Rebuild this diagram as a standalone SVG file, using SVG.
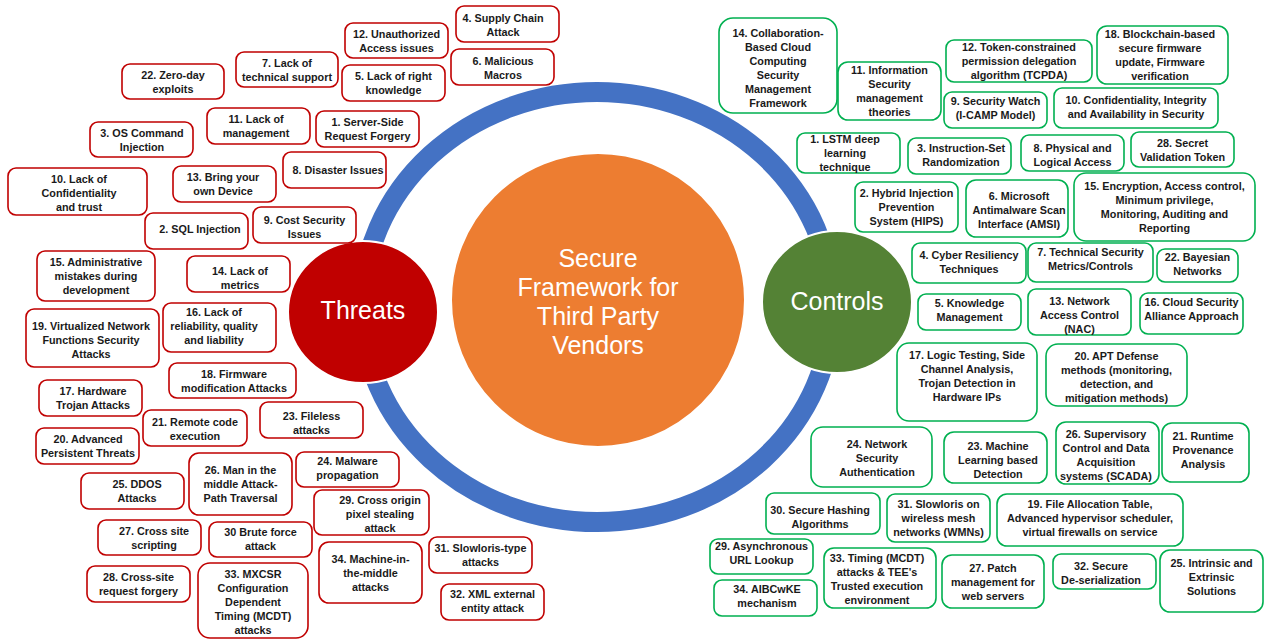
<svg xmlns="http://www.w3.org/2000/svg" width="1265" height="640" viewBox="0 0 1265 640">
<style>
.t rect{fill:#fff;stroke:#C00000;stroke-width:1.6}
.c rect{fill:#fff;stroke:#00B050;stroke-width:1.6}
text.l{font-family:"Liberation Sans",Arial,sans-serif;font-weight:bold;font-size:10.8px;text-anchor:middle;fill:#1a1a1a}
text.big{font-family:"Liberation Sans",Arial,sans-serif;font-size:25px;text-anchor:middle;fill:#fff}
</style>
<rect width="1265" height="640" fill="#fff"/>
<g id="ring"><ellipse cx="597" cy="307" rx="235" ry="215" fill="none" stroke="#4472C4" stroke-width="20"/></g>
<g id="center"><circle cx="598" cy="300" r="147" fill="#ED7D31" stroke="#fff" stroke-width="2"/>
<text class="big" x="598" y="267">Secure<tspan x="598" dy="29">Framework for</tspan><tspan x="598" dy="29">Third Party</tspan><tspan x="598" dy="29">Vendors</tspan></text></g>
<g id="threats"><ellipse cx="363" cy="312" rx="75" ry="71" fill="#C00000" stroke="#fff" stroke-width="2"/><text class="big" x="363" y="319">Threats</text></g>
<g id="controls"><ellipse cx="837" cy="302" rx="75" ry="71" fill="#548235" stroke="#fff" stroke-width="2"/><text class="big" x="837" y="310">Controls</text></g>

<g id="t22" class="t"><rect x="122" y="64" width="102" height="35" rx="8"/><text class="l" x="173" y="78.5">22. Zero-day<tspan x="173" dy="14">exploits</tspan></text></g>
<g id="t7" class="t"><rect x="236" y="52" width="102" height="35" rx="8"/><text class="l" x="287" y="66.5">7. Lack of<tspan x="287" dy="14">technical support</tspan></text></g>
<g id="t11" class="t"><rect x="207" y="108" width="103" height="36" rx="8"/><text class="l" x="256" y="123">11. Lack of<tspan x="256" dy="14">management</tspan></text></g>
<g id="t3" class="t"><rect x="90" y="122" width="103" height="35" rx="8"/><text class="l" x="142" y="136.5">3. OS Command<tspan x="142" dy="14">Injection</tspan></text></g>
<g id="t10" class="t"><rect x="8" y="168" width="139" height="47" rx="8"/><text class="l" x="79" y="182.5">10. Lack of<tspan x="79" dy="14">Confidentiality</tspan><tspan x="79" dy="14">and trust</tspan></text></g>
<g id="t13" class="t"><rect x="173" y="166" width="103" height="36" rx="8"/><text class="l" x="223" y="181">13. Bring your<tspan x="223" dy="14">own Device</tspan></text></g>
<g id="t8" class="t"><rect x="283" y="152" width="103" height="36" rx="8"/><text class="l" x="338" y="174">8. Disaster Issues</text></g>
<g id="t12" class="t"><rect x="345" y="23" width="103" height="35" rx="8"/><text class="l" x="396.5" y="37.5">12. Unauthorized<tspan x="396.5" dy="14">Access issues</tspan></text></g>
<g id="t4" class="t"><rect x="456" y="6" width="103" height="36" rx="8"/><text class="l" x="503" y="22">4. Supply Chain<tspan x="503" dy="14">Attack</tspan></text></g>
<g id="t6" class="t"><rect x="451" y="49" width="103" height="36" rx="8"/><text class="l" x="503" y="65">6. Malicious<tspan x="503" dy="14">Macros</tspan></text></g>
<g id="t5" class="t"><rect x="342" y="65" width="103" height="36" rx="8"/><text class="l" x="393.5" y="80">5. Lack of right<tspan x="393.5" dy="14">knowledge</tspan></text></g>
<g id="t1" class="t"><rect x="316" y="111" width="103" height="36" rx="8"/><text class="l" x="367.5" y="126">1. Server-Side<tspan x="367.5" dy="14">Request Forgery</tspan></text></g>
<g id="t2" class="t"><rect x="145" y="213" width="103" height="36" rx="8"/><text class="l" x="200" y="233">2. SQL Injection</text></g>
<g id="t9" class="t"><rect x="253" y="207" width="103" height="36" rx="8"/><text class="l" x="304.5" y="224">9. Cost Security<tspan x="304.5" dy="14">Issues</tspan></text></g>
<g id="t15" class="t"><rect x="37" y="251" width="118" height="50" rx="8"/><text class="l" x="96" y="266">15. Administrative<tspan x="96" dy="14">mistakes during</tspan><tspan x="96" dy="14">development</tspan></text></g>
<g id="t14" class="t"><rect x="187" y="256" width="103" height="36" rx="8"/><text class="l" x="240" y="275">14. Lack of<tspan x="240" dy="14">metrics</tspan></text></g>
<g id="t19" class="t"><rect x="26" y="309" width="133" height="58" rx="8"/><text class="l" x="91" y="330">19. Virtualized Network<tspan x="91" dy="14">Functions Security</tspan><tspan x="91" dy="14">Attacks</tspan></text></g>
<g id="t16" class="t"><rect x="163" y="303" width="113" height="49" rx="8"/><text class="l" x="214" y="316">16. Lack of<tspan x="214" dy="14">reliability, quality</tspan><tspan x="214" dy="14">and liability</tspan></text></g>
<g id="t18" class="t"><rect x="169" y="363" width="127" height="35" rx="8"/><text class="l" x="234" y="378">18. Firmware<tspan x="234" dy="14">modification Attacks</tspan></text></g>
<g id="t17" class="t"><rect x="39" y="380" width="103" height="36" rx="8"/><text class="l" x="93" y="395">17. Hardware<tspan x="93" dy="14">Trojan Attacks</tspan></text></g>
<g id="t21" class="t"><rect x="143" y="410" width="104" height="36" rx="8"/><text class="l" x="195" y="426">21. Remote code<tspan x="195" dy="14">execution</tspan></text></g>
<g id="t20" class="t"><rect x="36" y="428" width="103" height="36" rx="8"/><text class="l" x="88" y="443">20. Advanced<tspan x="88" dy="14">Persistent Threats</tspan></text></g>
<g id="t23" class="t"><rect x="260" y="402" width="103" height="36" rx="8"/><text class="l" x="311.5" y="420">23. Fileless<tspan x="311.5" dy="14">attacks</tspan></text></g>
<g id="t26" class="t"><rect x="189" y="453" width="103" height="62" rx="10"/><text class="l" x="240.5" y="474">26. Man in the<tspan x="240.5" dy="14">middle Attack-</tspan><tspan x="240.5" dy="14">Path Traversal</tspan></text></g>
<g id="t24" class="t"><rect x="296" y="452" width="103" height="35" rx="8"/><text class="l" x="347.5" y="465">24.  Malware<tspan x="347.5" dy="14">propagation</tspan></text></g>
<g id="t25" class="t"><rect x="81" y="473" width="103" height="36" rx="8"/><text class="l" x="137" y="488">25. DDOS<tspan x="137" dy="14">Attacks</tspan></text></g>
<g id="t29" class="t"><rect x="314" y="490" width="115" height="45" rx="8"/><text class="l" x="380" y="504">29. Cross origin<tspan x="380" dy="14">pixel stealing</tspan><tspan x="380" dy="14">attack</tspan></text></g>
<g id="t27" class="t"><rect x="98" y="520" width="103" height="35" rx="8"/><text class="l" x="154" y="535">27. Cross site<tspan x="154" dy="14">scripting</tspan></text></g>
<g id="t30" class="t"><rect x="209" y="522" width="103" height="35" rx="8"/><text class="l" x="260.5" y="536">30 Brute force<tspan x="260.5" dy="14">attack</tspan></text></g>
<g id="t34" class="t"><rect x="319" y="542" width="103" height="61" rx="10"/><text class="l" x="370.5" y="563">34. Machine-in-<tspan x="370.5" dy="14">the-middle</tspan><tspan x="370.5" dy="14">attacks</tspan></text></g>
<g id="t31" class="t"><rect x="429" y="537" width="103" height="36" rx="8"/><text class="l" x="480.5" y="552">31. Slowloris-type<tspan x="480.5" dy="14">attacks</tspan></text></g>
<g id="t28" class="t"><rect x="87" y="566" width="103" height="36" rx="8"/><text class="l" x="138.5" y="581">28. Cross-site<tspan x="138.5" dy="14">request forgery</tspan></text></g>
<g id="t33" class="t"><rect x="198" y="563" width="110" height="75" rx="12"/><text class="l" x="253" y="578">33. MXCSR<tspan x="253" dy="14">Configuration</tspan><tspan x="253" dy="14">Dependent</tspan><tspan x="253" dy="14">Timing (MCDT)</tspan><tspan x="253" dy="14">attacks</tspan></text></g>
<g id="t32" class="t"><rect x="441" y="584" width="103" height="36" rx="8"/><text class="l" x="492.5" y="598">32. XML external<tspan x="492.5" dy="14">entity attack</tspan></text></g>

<g id="c14" class="c"><rect x="719" y="18" width="118" height="95" rx="14"/><text class="l" x="778" y="36.5">14. Collaboration-<tspan x="778" dy="14">Based Cloud</tspan><tspan x="778" dy="14">Computing</tspan><tspan x="778" dy="14">Security</tspan><tspan x="778" dy="14">Management</tspan><tspan x="778" dy="14">Framework</tspan></text></g>
<g id="c11" class="c"><rect x="838" y="62" width="103" height="58" rx="10"/><text class="l" x="889.5" y="73.5">11. Information<tspan x="889.5" dy="14">Security</tspan><tspan x="889.5" dy="14">management</tspan><tspan x="889.5" dy="14">theories</tspan></text></g>
<g id="c12" class="c"><rect x="946" y="40" width="146" height="42" rx="8"/><text class="l" x="1019" y="50.5">12. Token-constrained<tspan x="1019" dy="14">permission delegation</tspan><tspan x="1019" dy="14">algorithm (TCPDA)</tspan></text></g>
<g id="c18" class="c"><rect x="1097" y="26" width="131" height="58" rx="10"/><text class="l" x="1160" y="38">18. Blockchain-based<tspan x="1160" dy="14">secure firmware</tspan><tspan x="1160" dy="14">update, Firmware</tspan><tspan x="1160" dy="14">verification</tspan></text></g>
<g id="c9" class="c"><rect x="944" y="92" width="103" height="36" rx="8"/><text class="l" x="995.5" y="105">9. Security Watch<tspan x="995.5" dy="14">(I-CAMP Model)</tspan></text></g>
<g id="c10" class="c"><rect x="1054" y="88" width="164" height="40" rx="8"/><text class="l" x="1136" y="104">10. Confidentiality, Integrity<tspan x="1136" dy="14">and Availability in Security</tspan></text></g>
<g id="c1" class="c"><rect x="797" y="133" width="103" height="40" rx="8"/><text class="l" x="845" y="143">1. LSTM deep<tspan x="845" dy="14">learning</tspan><tspan x="845" dy="14">technique</tspan></text></g>
<g id="c3" class="c"><rect x="908" y="138" width="103" height="36" rx="8"/><text class="l" x="961" y="152">3. Instruction-Set<tspan x="961" dy="14">Randomization</tspan></text></g>
<g id="c8" class="c"><rect x="1021" y="135" width="103" height="36" rx="8"/><text class="l" x="1072.5" y="152">8. Physical and<tspan x="1072.5" dy="14">Logical Access</tspan></text></g>
<g id="c28" class="c"><rect x="1131" y="132" width="103" height="35" rx="8"/><text class="l" x="1182.5" y="147">28. Secret<tspan x="1182.5" dy="14">Validation Token</tspan></text></g>
<g id="c2" class="c"><rect x="855" y="182" width="103" height="50" rx="8"/><text class="l" x="906.5" y="197">2. Hybrid Injection<tspan x="906.5" dy="14">Prevention</tspan><tspan x="906.5" dy="14">System (HIPS)</tspan></text></g>
<g id="c6" class="c"><rect x="966" y="180" width="102" height="57" rx="10"/><text class="l" x="1019" y="200">6. Microsoft<tspan x="1019" dy="14">Antimalware Scan</tspan><tspan x="1019" dy="14">Interface (AMSI)</tspan></text></g>
<g id="c15" class="c"><rect x="1074" y="173" width="181" height="68" rx="12"/><text class="l" x="1164.5" y="190">15. Encryption, Access control,<tspan x="1164.5" dy="14">Minimum privilege,</tspan><tspan x="1164.5" dy="14">Monitoring, Auditing and</tspan><tspan x="1164.5" dy="14">Reporting</tspan></text></g>
<g id="c4" class="c"><rect x="912" y="243" width="114" height="40" rx="8"/><text class="l" x="969" y="259">4. Cyber Resiliency<tspan x="969" dy="14">Techniques</tspan></text></g>
<g id="c7" class="c"><rect x="1028" y="243" width="125" height="39" rx="8"/><text class="l" x="1090.5" y="256">7. Technical Security<tspan x="1090.5" dy="14">Metrics/Controls</tspan></text></g>
<g id="c22" class="c"><rect x="1157" y="249" width="81" height="33" rx="8"/><text class="l" x="1197.5" y="261">22. Bayesian<tspan x="1197.5" dy="14">Networks</tspan></text></g>
<g id="c5" class="c"><rect x="918" y="294" width="103" height="36" rx="8"/><text class="l" x="969.5" y="307">5. Knowledge<tspan x="969.5" dy="14">Management</tspan></text></g>
<g id="c13" class="c"><rect x="1028" y="289" width="103" height="46" rx="8"/><text class="l" x="1079.5" y="305">13. Network<tspan x="1079.5" dy="14">Access Control</tspan><tspan x="1079.5" dy="14">(NAC)</tspan></text></g>
<g id="c16" class="c"><rect x="1140" y="293" width="103" height="41" rx="8"/><text class="l" x="1191.5" y="306">16. Cloud Security<tspan x="1191.5" dy="14">Alliance Approach</tspan></text></g>
<g id="c17" class="c"><rect x="897" y="343" width="140" height="78" rx="12"/><text class="l" x="967" y="359">17. Logic Testing, Side<tspan x="967" dy="14">Channel Analysis,</tspan><tspan x="967" dy="14">Trojan Detection in</tspan><tspan x="967" dy="14">Hardware IPs</tspan></text></g>
<g id="c20" class="c"><rect x="1046" y="344" width="141" height="62" rx="12"/><text class="l" x="1116.5" y="360">20. APT Defense<tspan x="1116.5" dy="14">methods (monitoring,</tspan><tspan x="1116.5" dy="14">detection, and</tspan><tspan x="1116.5" dy="14">mitigation methods)</tspan></text></g>
<g id="c24" class="c"><rect x="811" y="427" width="121" height="60" rx="12"/><text class="l" x="877" y="448">24. Network<tspan x="877" dy="14">Security</tspan><tspan x="877" dy="14">Authentication</tspan></text></g>
<g id="c23" class="c"><rect x="944" y="432" width="103" height="51" rx="10"/><text class="l" x="998" y="450">23. Machine<tspan x="998" dy="14">Learning based</tspan><tspan x="998" dy="14">Detection</tspan></text></g>
<g id="c26" class="c"><rect x="1056" y="422" width="103" height="62" rx="10"/><text class="l" x="1106" y="437.5">26. Supervisory<tspan x="1106" dy="14">Control and Data</tspan><tspan x="1106" dy="14">Acquisition</tspan><tspan x="1106" dy="14">systems (SCADA)</tspan></text></g>
<g id="c21" class="c"><rect x="1162" y="423" width="87" height="59" rx="10"/><text class="l" x="1203" y="440">21. Runtime<tspan x="1203" dy="14">Provenance</tspan><tspan x="1203" dy="14">Analysis</tspan></text></g>
<g id="c30" class="c"><rect x="766" y="493" width="114" height="41" rx="8"/><text class="l" x="820" y="514">30. Secure Hashing<tspan x="820" dy="14">Algorithms</tspan></text></g>
<g id="c31" class="c"><rect x="887" y="494" width="103" height="48" rx="8"/><text class="l" x="938.5" y="508">31. Slowloris on<tspan x="938.5" dy="14">wireless mesh</tspan><tspan x="938.5" dy="14">networks (WMNs)</tspan></text></g>
<g id="c19" class="c"><rect x="997" y="494" width="186" height="52" rx="10"/><text class="l" x="1090" y="508">19. File Allocation Table,<tspan x="1090" dy="14">Advanced hypervisor scheduler,</tspan><tspan x="1090" dy="14">virtual firewalls on service</tspan></text></g>
<g id="c29" class="c"><rect x="710" y="539" width="103" height="35" rx="8"/><text class="l" x="761.5" y="550">29. Asynchronous<tspan x="761.5" dy="14">URL Lookup</tspan></text></g>
<g id="c34" class="c"><rect x="714" y="580" width="103" height="36" rx="8"/><text class="l" x="767" y="593">34. AIBCwKE<tspan x="767" dy="14">mechanism</tspan></text></g>
<g id="c33" class="c"><rect x="824" y="548" width="112" height="60" rx="10"/><text class="l" x="877" y="561.5">33. Timing (MCDT)<tspan x="877" dy="14">attacks &amp; TEE's</tspan><tspan x="877" dy="14">Trusted execution</tspan><tspan x="877" dy="14">environment</tspan></text></g>
<g id="c27" class="c"><rect x="942" y="555" width="102" height="53" rx="10"/><text class="l" x="993" y="571.5">27. Patch<tspan x="993" dy="14">management for</tspan><tspan x="993" dy="14">web servers</tspan></text></g>
<g id="c32" class="c"><rect x="1053" y="554" width="103" height="35" rx="8"/><text class="l" x="1101" y="570">32. Secure<tspan x="1101" dy="14">De-serialization</tspan></text></g>
<g id="c25" class="c"><rect x="1160" y="550" width="103" height="62" rx="10"/><text class="l" x="1211.5" y="567">25. Intrinsic and<tspan x="1211.5" dy="14">Extrinsic</tspan><tspan x="1211.5" dy="14">Solutions</tspan></text></g>
</svg>
